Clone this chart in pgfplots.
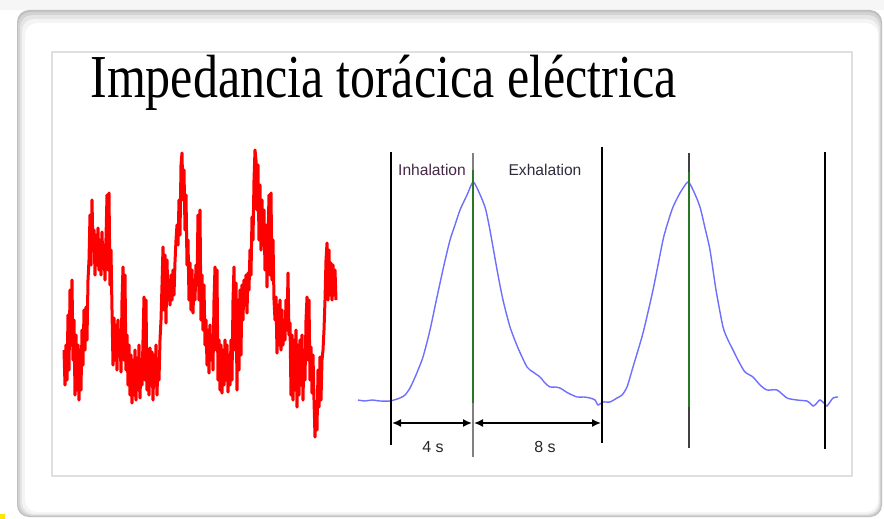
\documentclass[border=0pt]{standalone}
\usepackage{pgfplots}
\pgfplotsset{compat=1.18}
\usepackage{fontspec}
\setmainfont{Liberation Serif}
\newfontfamily\arial{Liberation Sans}
\usetikzlibrary{arrows.meta}
\definecolor{sigred}{RGB}{255,0,0}
\definecolor{sigblue}{RGB}{110,110,255}
\definecolor{markgreen}{RGB}{40,120,40}
\definecolor{inhal}{RGB}{70,40,70}
\definecolor{exhal}{RGB}{45,45,60}

\begin{document}
\begin{tikzpicture}
% 1 px of the reference = 0.5pt
\begin{axis}[
  width=442pt, height=259.5pt, scale only axis,
  xmin=0, xmax=884, ymin=0, ymax=519, y dir=reverse,
  hide axis, clip=false]

% slide frame
\fill[white] (0,0) rectangle (884,519);
\fill[gray!7] (0,0) rectangle (884,10);
\fill[gray!50, rounded corners=6pt] (17,10) rectangle (882,517);
\fill[gray!35, rounded corners=6pt] (18,12) rectangle (881,516);
\fill[gray!20, rounded corners=6pt] (20,15) rectangle (880,515);
\fill[gray!9, rounded corners=6pt] (22,19) rectangle (879,514);
\fill[white, rounded corners=6pt] (25,23) rectangle (878,512);
\fill[yellow!90!orange] (0,514) rectangle (5,519);
\draw[gray!25, line width=1pt, fill=white] (52,52) rectangle (852,476);

% title
\node[anchor=base west, inner sep=0pt] at (90,98)
  {\scalebox{0.82}[1]{\fontsize{30.5}{36}\selectfont Impedancia torácica eléctrica}};

% thoracic impedance signal (red)
\addplot[sigred, line width=1.5pt, line join=round] coordinates {
(64,350) (65,385) (66,345) (67,380) (68,315) (69,370) (70,290) (71,345) (72,280) (73,360)
(74,320) (75,395) (76,335) (77,390) (78,345) (79,400) (80,350) (81,390) (82,330) (83,365)
(84,310) (85,350) (86,307) (87,340) (88,280) (89,260) (90,215) (91,265) (92,200) (93,250)
(94,230) (95,275) (96,235) (97,265) (98,228) (99,270) (100,240) (101,275) (102,232) (103,268)
(104,245) (105,280) (106,238) (107,195) (108,270) (109,193) (110,285) (111,250) (112,310) (113,365)
(114,318) (115,360) (116,325) (117,370) (118,320) (119,355) (120,330) (121,372) (122,300) (123,267)
(124,360) (125,275) (126,370) (127,335) (128,385) (129,345) (130,395) (131,355) (132,403) (133,360)
(134,395) (135,350) (136,400) (137,358) (138,390) (139,345) (140,398) (141,360) (142,385) (143,340)
(144,297) (145,380) (146,300) (147,390) (148,350) (149,395) (150,348) (151,385) (152,352) (153,400)
(154,355) (155,385) (156,345) (157,395) (158,360) (159,380) (160,340) (161,320) (162,285) (163,247)
(164,310) (165,255) (166,323) (167,260) (168,300) (169,280) (170,305) (171,275) (172,300) (173,270)
(174,295) (175,262) (176,240) (177,225) (178,245) (179,200) (180,235) (181,165) (182,153) (183,200)
(184,170) (185,230) (186,195) (187,265) (188,240) (189,300) (190,263) (191,310) (192,270) (193,313)
(194,280) (195,300) (196,265) (197,285) (198,215) (199,300) (200,210) (201,320) (202,275) (203,330)
(204,285) (205,345) (206,320) (207,365) (208,330) (209,373) (210,325) (211,360) (212,335) (213,370)
(214,300) (215,267) (216,350) (217,270) (218,380) (219,340) (220,390) (221,345) (222,393) (223,350)
(224,385) (225,340) (226,380) (227,345) (228,392) (229,355) (230,385) (231,340) (232,380) (233,300)
(234,267) (235,350) (236,283) (237,390) (238,300) (239,370) (240,290) (241,355) (242,285) (243,320)
(244,280) (245,305) (246,275) (247,313) (248,273) (249,290) (250,250) (251,275) (252,217) (253,240)
(254,180) (255,150) (256,160) (257,210) (258,165) (259,240) (260,185) (261,250) (262,200) (263,245)
(264,210) (265,270) (266,225) (267,287) (268,240) (269,195) (270,275) (271,193) (272,280) (273,240)
(274,300) (275,320) (276,297) (277,353) (278,305) (279,345) (280,300) (281,350) (282,310) (283,345)
(284,320) (285,340) (286,300) (287,330) (288,273) (289,335) (290,323) (291,395) (292,335) (293,400)
(294,340) (295,390) (296,330) (297,407) (298,345) (299,395) (300,340) (301,385) (302,335) (303,400)
(304,350) (305,380) (306,320) (307,297) (308,360) (309,300) (310,380) (311,347) (312,393) (313,355)
(314,400) (315,437) (316,405) (317,430) (318,370) (319,407) (320,357) (321,400) (322,360) (323,350)
(324,330) (325,300) (326,260) (327,243) (328,300) (329,250) (330,295) (331,263) (332,300) (333,265)
(334,295) (335,270) (336,300)
};

% breathing curve (blue)
\addplot[sigblue, line width=0.7pt, smooth, tension=0.4] coordinates {
(358,400) (365,401) (372,400) (380,401) (390,401) (400,398) (405,395) (410,388) (416,375) (423,357)
(430,330) (437,297) (444,265) (450,240) (455,225) (460,210) (467,195) (473,182) (478,190) (485,207)
(489,225) (493,247) (498,275) (503,300) (510,327) (518,348) (527,367) (533,372) (540,377) (545,383)
(550,387) (556,387) (560,388) (568,393) (577,397) (584,397) (590,398) (595,400) (598,405) (603,402)
(610,402) (617,398) (622,395) (627,387) (633,367) (643,333) (653,290) (663,240) (668,222) (673,207)
(680,193) (688,182) (694,192) (700,207) (705,228) (710,250) (716,290) (723,327) (728,340) (733,350)
(739,362) (745,372) (753,377) (760,385) (767,390) (777,390) (787,398) (797,400) (807,401) (810,403)
(813,406) (816,404) (820,400) (825,404) (827,406) (833,398) (838,397)
};

% phase markers
\addplot[black, line width=0.7pt] coordinates {(391,152) (391,445)};
\addplot[gray, line width=0.8pt] coordinates {(473,153) (473,457)};
\addplot[markgreen, line width=0.6pt] coordinates {(473,170) (473,403)};
\addplot[black, line width=0.7pt] coordinates {(602,147) (602,443)};
\addplot[black!75, line width=0.8pt] coordinates {(689,153) (689,448)};
\addplot[markgreen, line width=0.6pt] coordinates {(689,172) (689,407)};
\addplot[black, line width=0.8pt] coordinates {(825,152) (825,449)};
\addplot[black, line width=1.2pt] coordinates {(825,152) (825,188)};

% duration arrows
\addplot[black, line width=0.8pt, {Latex[length=4.5pt,width=4pt]}-{Latex[length=4.5pt,width=4pt]}]
  coordinates {(392,423) (472,423)};
\addplot[black, line width=0.8pt, {Latex[length=4.5pt,width=4pt]}-{Latex[length=4.5pt,width=4pt]}]
  coordinates {(474,423) (601,423)};

% labels
\node[inhal, font=\arial\fontsize{7.8}{9}\selectfont] at (432,170) {Inhalation};
\node[exhal, font=\arial\fontsize{7.8}{9}\selectfont] at (545,170) {Exhalation};
\node[black!85, font=\arial\fontsize{8}{9}\selectfont] at (433,447) {4 s};
\node[black!85, font=\arial\fontsize{8}{9}\selectfont] at (545,447) {8 s};

\end{axis}
\end{tikzpicture}
\end{document}
